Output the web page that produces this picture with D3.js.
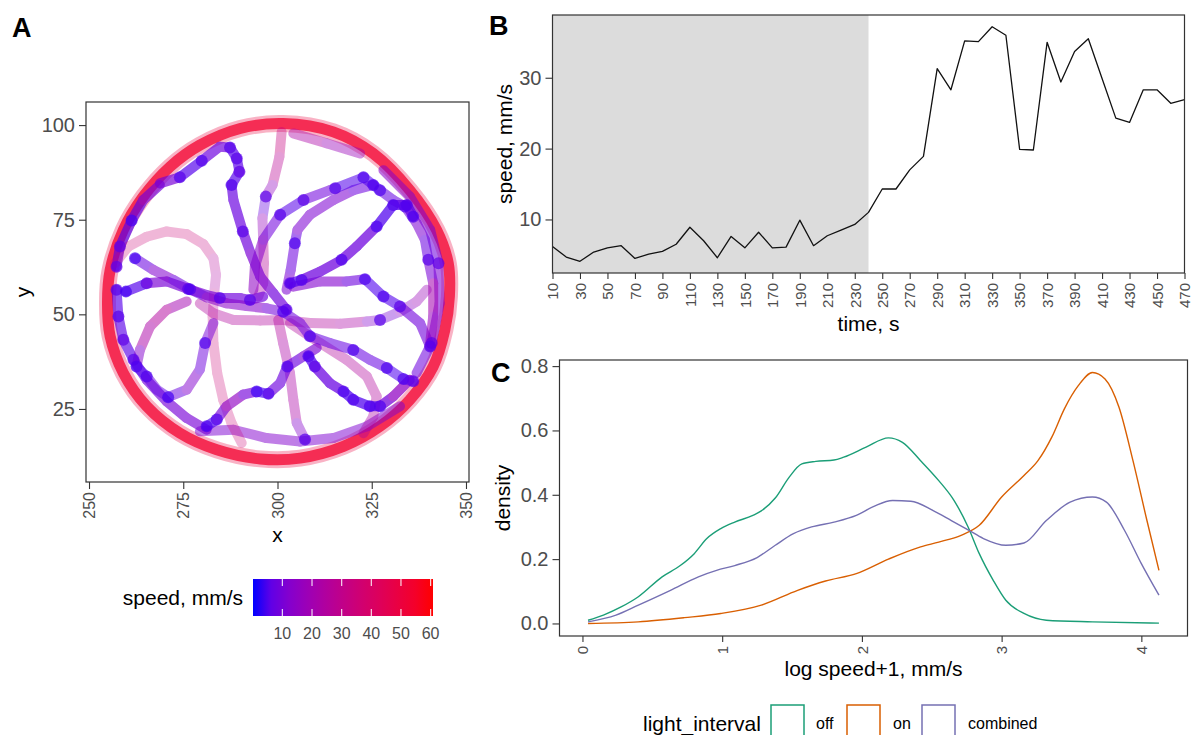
<!DOCTYPE html>
<html><head><meta charset="utf-8">
<script src="https://cdn.jsdelivr.net/npm/d3@7"></script>
<style>
body{margin:0;background:#fff}
svg text{font-family:"Liberation Sans",Arial,Helvetica,sans-serif}
</style>
</head><body>
<svg id="chart" width="1192" height="735"></svg>
<script>
// ---------------- Panel A data: trajectory (x, y, speed) ----------------
const aXTicks = [250, 275, 300, 325, 350];
const aYTicks = [25, 50, 75, 100];
const speedRange = [0.1, 60.8];
const speedTicks = [10, 20, 30, 40, 50, 60];
const rimSpeed = 50;
const rimPts = [[301.5,100.4],[314.8,98.2],[325.4,92.5],[335.1,82.8],[342.2,72.3],[345.3,63.5],[345.6,54.7],[344.4,45.9],[341.3,36.2],[335.1,27.4],[327.2,20.4],[317.5,15.1],[306.0,12.0],[295.4,11.8],[283.9,14.2],[274.1,18.6],[265.3,25.7],[259.1,34.5],[255.6,44.2],[254.9,52.9],[255.6,61.7],[259.1,72.3],[264.4,81.1],[271.5,89.0],[279.4,94.7],[290.1,99.1]];
const track01 = [[268.8,84.6,15],[274.1,86.2,5],[279.9,90.6,4],[284.7,94.3,12],[287.4,94.1,5],[289.2,91.2,5],[289.9,87.7,6],[287.8,84.2,4],[288.3,80.2,10],[290.8,71.9,5],[292.9,66.1,12],[295.4,60.0,10],[298.9,55.6,12],[302.4,51.2,5]];
const track02 = [[301.1,98.2,35],[300.5,91.6,30],[298.7,84.2,25],[296.9,81.1,6],[296.0,75.4,8],[296.2,69.7,25],[296.4,63.5,28],[296.2,58.2,25],[294.9,54.7,20]];
const track03 = [[256.9,63.5,35],[260.4,67.9,35],[265.3,70.5,35],[270.6,71.9,35],[275.9,71.2,35],[280.3,68.6,35],[283.0,64.8,30],[283.7,60.4,22],[283.2,55.6,25],[282.8,49.4,30],[283.0,42.4,35],[284.0,34.5,35],[285.6,27.4,35],[287.8,21.3,35],[290.5,16.0,35]];
const track04 = [[262.2,64.8,3],[267.1,61.7,12],[272.4,59.1,12],[276.8,56.6,4],[281.2,54.5,12],[286.5,52.9,15],[291.8,52.2,12],[297.1,51.6,14],[301.5,50.7,4],[306.0,47.7,12],[308.6,44.2,4],[313.9,42.4,10],[320.1,40.6,4],[324.5,38.0,10],[329.0,35.8,4],[333.4,32.9,4],[336.0,32.3,6]];
const track05 = [[259.8,56.0,3],[265.3,58.2,6],[270.6,58.7,15],[276.3,56.7,5],[281.2,55.1,15],[284.7,54.3,5],[290.1,54.3,12],[292.7,53.8,5],[296.2,54.7,12]];
const track06 = [[279.4,52.9,25],[283.0,50.3,25],[288.3,48.5,25],[295.4,48.4,25],[301.5,48.5,25],[308.6,47.7,25],[316.6,47.5,25],[323.7,48.1,20],[327.2,48.5,5],[332.5,50.7,15],[336.9,53.4,15],[339.6,56.5,20]];
const track07 = [[293.6,56.5,15],[294.0,62.6,15],[296.2,69.7,12],[300.7,76.3,5],[306.9,80.2,5],[313.9,82.8,12],[315.3,83.3,5],[322.8,86.2,4],[327.2,82.8,4],[330.7,80.2,10],[333.8,78.5,4],[336.9,74.1,12],[339.1,69.7,10],[340.0,64.4,5],[341.3,58.2,15],[341.3,49.4,25],[340.5,42.4,8]];
const track08 = [[302.4,56.5,10],[303.5,61.7,12],[304.6,68.8,4],[305.3,72.3,10],[308.6,76.3,12],[314.8,80.2,10],[320.1,82.8,12],[325.4,84.2,4]];
const track09 = [[303.3,58.2,5],[306.4,59.1,4],[311.3,61.3,12],[317.0,64.4,4],[321.0,67.9,12],[326.3,73.2,4],[330.7,78.9,4],[334.3,78.9,5],[336.0,75.8,4]];
const track10 = [[304.2,57.3,12],[311.3,58.7,12],[318.3,58.7,12],[323.2,59.3,4],[328.1,54.7,4],[332.5,52.1,5],[337.8,47.7,12],[340.5,41.5,5]];
const track11 = [[275.9,53.4,15],[270.6,51.2,25],[266.2,46.8,25],[263.5,40.6,20],[262.6,36.2,4],[265.3,33.6,4],[268.0,30.1,10],[271.0,28.1,3],[275.9,30.1,12],[279.4,35.4,12],[280.8,42.4,4],[283.0,47.7,15]];
const track12 = [[281.2,20.4,4],[283.9,22.2,4],[286.5,25.7,15],[290.9,28.8,15],[294.5,29.6,3],[297.6,29.0,4],[300.7,31.8,12],[302.6,36.2,4],[306.9,38.9,12],[310.4,41.1,10]];
const track13 = [[300.2,48.5,25],[301.5,42.4,25],[303.3,34.5,20],[304.2,27.4,25],[305.1,21.3,20],[307.3,16.9,5]];
const track14 = [[308.2,38.9,4],[309.9,36.2,5],[313.9,31.8,10],[317.5,29.6,4],[320.1,27.4,4],[324.5,25.7,4],[327.2,25.7,4],[330.7,28.3,15],[335.1,32.7,15]];
const track15 = [[303.3,47.7,25],[311.3,42.4,25],[318.3,38.0,25],[323.7,33.6,25],[326.3,28.3,25],[325.4,23.0,25],[322.8,18.6,20]];
const track16 = [[279.4,19.1,10],[288.3,19.5,12],[297.1,17.3,12],[306.0,16.4,12],[314.8,17.3,10],[323.7,20.4,12],[332.5,25.7,10]];
const track17 = [[257.3,56.5,5],[257.8,49.4,5],[259.1,43.3,6],[261.8,38.0,5],[265.3,32.7,8],[270.6,27.0,10],[275.9,22.6,10],[281.2,19.5,10]];
const track18 = [[257.3,62.6,6],[258.2,67.9,6],[261.3,74.8,3],[264.4,80.2,8],[268.8,84.2,10]];
const track19 = [[328.1,88.1,15],[335.1,81.1,12],[340.5,72.3,10],[342.7,63.5,6],[343.0,52.9,15],[340.9,42.4,6],[336.9,34.5,10]];
const track20 = [[304.2,97.8,25],[313.0,95.2,20],[321.9,92.5,15]];
const tracks = [track17,track18,track19,track16,track20,track03,track02,track13,track15,track06,track11,track12,track14,track05,track04,track10,track08,track09,track07,track01];

// ---------------- Panel B data ----------------
const timeB = [10,20,30,40,50,60,70,80,90,100,110,120,130,140,150,160,170,180,190,200,210,220,230,240,250,260,270,280,290,300,310,320,330,340,350,360,370,380,390,400,410,420,430,440,450,460,470];
const speedB = [6.2,4.7,4.1,5.4,6.0,6.3,4.5,5.1,5.5,6.5,8.9,7.0,4.6,7.6,6.0,8.2,6.0,6.1,9.9,6.3,7.7,8.5,9.3,11.0,14.3,14.3,17.0,18.9,31.3,28.3,35.2,35.1,37.2,36.0,19.9,19.8,35.0,29.4,33.7,35.5,29.9,24.3,23.7,28.3,28.3,26.4,26.9];
const darkInterval = [10, 240];
const bXTicks = [10,30,50,70,90,110,130,150,170,190,210,230,250,270,290,310,330,350,370,390,410,430,450,470];
const bYTicks = [10, 20, 30];

// ---------------- Panel C data (density curves) ----------------
const offX = [0.04,0.15,0.28,0.40,0.57,0.70,0.80,0.89,0.99,1.09,1.22,1.28,1.38,1.48,1.57,1.67,1.80,1.87,2.03,2.19,2.29,2.42,2.55,2.66,2.76,2.84,2.94,3.03,3.16,3.32,3.65,4.126];
const offY = [0.010,0.026,0.052,0.083,0.145,0.180,0.217,0.264,0.295,0.315,0.336,0.350,0.390,0.455,0.496,0.504,0.508,0.517,0.548,0.577,0.563,0.506,0.444,0.382,0.300,0.217,0.134,0.072,0.031,0.010,0.005,0.001];
const onX = [0.04,0.40,0.73,0.99,1.28,1.54,1.74,1.96,2.19,2.42,2.55,2.71,2.84,3.0,3.16,3.26,3.36,3.45,3.55,3.65,3.74,3.84,3.94,4.04,4.126];
const onY = [0.0,0.005,0.018,0.031,0.057,0.103,0.132,0.155,0.200,0.238,0.253,0.274,0.305,0.393,0.460,0.506,0.580,0.668,0.740,0.780,0.760,0.672,0.506,0.320,0.165];
const combX = [0.04,0.24,0.40,0.63,0.83,0.96,1.09,1.25,1.38,1.51,1.64,1.80,1.96,2.09,2.22,2.35,2.51,2.64,2.76,2.87,3.03,3.16,3.32,3.49,3.65,3.75,3.88,4.0,4.126];
const combY = [0.005,0.026,0.057,0.103,0.145,0.165,0.180,0.205,0.243,0.279,0.300,0.315,0.336,0.365,0.382,0.380,0.351,0.320,0.291,0.264,0.243,0.250,0.320,0.377,0.393,0.377,0.289,0.186,0.088];
const seriesNames = ["off", "on", "combined"];
const seriesColors = ["#1B9E77", "#D95F02", "#7570B3"];
const cXTicks = [0, 1, 2, 3, 4];
const cYTicks = [0.0, 0.2, 0.4, 0.6, 0.8];

// ---------------- drawing ----------------
const svg = d3.select("#chart");
const TICK = "#4D4D4D", BORDER = "#333333";

function styleAxis(g, size) {
  g.select(".domain").remove();
  g.selectAll(".tick line").attr("stroke", BORDER).attr("stroke-width", 1.1);
  g.selectAll(".tick text").attr("fill", TICK).style("font-size", size + "px");
}
function rotateBottom(g, off) {
  g.selectAll(".tick text").attr("transform", "rotate(-90)").attr("x", -off).attr("y", 0)
    .attr("dy", "0.35em").attr("text-anchor", "end");
}
function label(x, y, txt, size, opts = {}) {
  const t = svg.append("text").attr("x", x).attr("y", y).text(txt)
    .style("font-size", size + "px").attr("fill", opts.fill || "#000")
    .attr("text-anchor", opts.anchor || "middle");
  if (opts.bold) t.style("font-weight", "bold");
  if (opts.rotate) t.attr("transform", `rotate(-90,${x},${y})`);
  return t;
}

// ===== Panel A =====
const A = {l: 86, r: 469, t: 102, b: 482};
const ax = d3.scaleLinear().domain([249.2, 350.8]).range([A.l, A.r]);
const ay = d3.scaleLinear().domain([5.7, 106.1]).range([A.b, A.t]);
const speedColor = d3.scaleLinear().domain(speedRange).range(["#0000FF", "#FF0000"]).interpolate(d3.interpolateLab);
const opacityOf = d3.scaleLinear().domain([4, 12, 35]).range([0.72, 0.5, 0.28]).clamp(true);

svg.append("clipPath").attr("id", "clipA").append("rect")
  .attr("x", A.l).attr("y", A.t).attr("width", A.r - A.l).attr("height", A.b - A.t);
const gA = svg.append("g").attr("clip-path", "url(#clipA)");

const rimLine = d3.line().x(d => ax(d[0])).y(d => ay(d[1])).curve(d3.curveCatmullRomClosed);
gA.append("path").attr("d", rimLine(rimPts)).attr("fill", "none")
  .attr("stroke", speedColor(rimSpeed)).attr("stroke-width", 17).attr("opacity", 0.3);
gA.append("path").attr("d", rimLine(rimPts)).attr("fill", "none")
  .attr("stroke", speedColor(rimSpeed + 4)).attr("stroke-width", 11).attr("opacity", 0.75);

tracks.forEach(tr => {
  const med = d3.median(tr, d => d[2]);
  const g = gA.append("g").attr("opacity", opacityOf(med));
  const segs = d3.pairs(tr);
  g.selectAll("line").data(segs).join("line")
    .attr("x1", d => ax(d[0][0])).attr("y1", d => ay(d[0][1]))
    .attr("x2", d => ax(d[1][0])).attr("y2", d => ay(d[1][1]))
    .attr("stroke", d => speedColor((d[0][2] + d[1][2]) / 2))
    .attr("stroke-width", 10).attr("stroke-linecap", "round").attr("stroke-linejoin", "round");
});
tracks.forEach(tr => {
  gA.append("g").selectAll("circle").data(tr.filter(d => d[2] <= 6)).join("circle")
    .attr("cx", d => ax(d[0])).attr("cy", d => ay(d[1])).attr("r", 6)
    .attr("fill", d => speedColor(d[2])).attr("opacity", 0.7);
});

svg.append("rect").attr("x", A.l).attr("y", A.t).attr("width", A.r - A.l).attr("height", A.b - A.t)
  .attr("fill", "none").attr("stroke", BORDER).attr("stroke-width", 1.2);
svg.append("g").attr("transform", `translate(${A.l},0)`)
  .call(d3.axisLeft(ay).tickValues(aYTicks).tickSize(7).tickPadding(4)).call(g => styleAxis(g, 20));
svg.append("g").attr("transform", `translate(0,${A.b})`)
  .call(d3.axisBottom(ax).tickValues(aXTicks).tickSize(7)).call(g => styleAxis(g, 16)).call(g => rotateBottom(g, 10));
label(12, 37, "A", 27, {anchor: "start", bold: true});
label((A.l + A.r) / 2, 542, "x", 21);
label(30, (A.t + A.b) / 2, "y", 21, {rotate: true});

// colour bar legend
const cb = {l: 253, r: 433, t: 579, b: 616};
const cbx = d3.scaleLinear().domain(speedRange).range([cb.l, cb.r]);
const grad = svg.append("defs").append("linearGradient").attr("id", "spGrad");
d3.range(0, 1.0001, 0.1).forEach(t => grad.append("stop").attr("offset", t)
  .attr("stop-color", speedColor(speedRange[0] + t * (speedRange[1] - speedRange[0]))));
svg.append("rect").attr("x", cb.l).attr("y", cb.t).attr("width", cb.r - cb.l).attr("height", cb.b - cb.t)
  .attr("fill", "url(#spGrad)");
speedTicks.forEach(v => {
  svg.append("line").attr("x1", cbx(v)).attr("x2", cbx(v)).attr("y1", cb.t).attr("y2", cb.t + 7)
    .attr("stroke", "#fff").attr("stroke-width", 1.2).attr("opacity", 0.85);
  svg.append("line").attr("x1", cbx(v)).attr("x2", cbx(v)).attr("y1", cb.b - 7).attr("y2", cb.b)
    .attr("stroke", "#fff").attr("stroke-width", 1.2).attr("opacity", 0.85);
  label(cbx(v), 639, v, 16, {fill: TICK});
});
label(243, 605, "speed, mm/s", 21, {anchor: "end"});

// ===== Panel B =====
const B = {l: 552.5, r: 1184.5, t: 15, b: 273};
const bx = d3.scaleLinear().domain([timeB[0], timeB[timeB.length - 1]]).range([B.l, B.r]);
const [bMin, bMax] = d3.extent(speedB);
const bPad = (bMax - bMin) * 0.05;
const by = d3.scaleLinear().domain([bMin - bPad, bMax + bPad]).range([B.b, B.t]);
svg.append("rect").attr("x", bx(darkInterval[0])).attr("y", B.t)
  .attr("width", bx(darkInterval[1]) - bx(darkInterval[0])).attr("height", B.b - B.t).attr("fill", "#DCDCDC");
svg.append("path").datum(timeB.map((t, i) => [t, speedB[i]]))
  .attr("d", d3.line().x(d => bx(d[0])).y(d => by(d[1])))
  .attr("fill", "none").attr("stroke", "#111").attr("stroke-width", 1.3).attr("stroke-linejoin", "round");
svg.append("rect").attr("x", B.l).attr("y", B.t).attr("width", B.r - B.l).attr("height", B.b - B.t)
  .attr("fill", "none").attr("stroke", BORDER).attr("stroke-width", 1.2);
svg.append("g").attr("transform", `translate(${B.l},0)`)
  .call(d3.axisLeft(by).tickValues(bYTicks).tickSize(7).tickPadding(4)).call(g => styleAxis(g, 20));
svg.append("g").attr("transform", `translate(0,${B.b})`)
  .call(d3.axisBottom(bx).tickValues(bXTicks).tickSize(6)).call(g => styleAxis(g, 15)).call(g => rotateBottom(g, 10));
label(489, 35, "B", 27, {anchor: "start", bold: true});
label((B.l + B.r) / 2, 331, "time, s", 21);
label(512, (B.t + B.b) / 2, "speed, mm/s", 21, {rotate: true});

// ===== Panel C =====
const C = {l: 559.5, r: 1187.5, t: 360, b: 636};
const cSeries = [d3.zip(offX, offY), d3.zip(onX, onY), d3.zip(combX, combY)];
const allPts = cSeries.flat();
const [cxMin, cxMax] = d3.extent(allPts, d => d[0]);
const [cyMin, cyMax] = d3.extent(allPts, d => d[1]);
const cxPad = (cxMax - cxMin) * 0.05, cyPad = (cyMax - cyMin) * 0.05;
const cx = d3.scaleLinear().domain([cxMin - cxPad, cxMax + cxPad]).range([C.l, C.r]);
const cy = d3.scaleLinear().domain([cyMin - cyPad, cyMax + cyPad]).range([C.b, C.t]);
const cLine = d3.line().x(d => cx(d[0])).y(d => cy(d[1])).curve(d3.curveMonotoneX);
cSeries.forEach((s, i) => {
  svg.append("path").attr("d", cLine(s)).attr("fill", "none")
    .attr("stroke", seriesColors[i]).attr("stroke-width", 1.4);
});
svg.append("rect").attr("x", C.l).attr("y", C.t).attr("width", C.r - C.l).attr("height", C.b - C.t)
  .attr("fill", "none").attr("stroke", BORDER).attr("stroke-width", 1.2);
svg.append("g").attr("transform", `translate(${C.l},0)`)
  .call(d3.axisLeft(cy).tickValues(cYTicks).tickFormat(d3.format(".1f")).tickSize(7).tickPadding(4))
  .call(g => styleAxis(g, 20));
svg.append("g").attr("transform", `translate(0,${C.b})`)
  .call(d3.axisBottom(cx).tickValues(cXTicks).tickFormat(d3.format("d")).tickSize(6))
  .call(g => styleAxis(g, 15)).call(g => rotateBottom(g, 10));
label(491, 382, "C", 27, {anchor: "start", bold: true});
label((C.l + C.r) / 2, 676, "log speed+1, mm/s", 21);
label(510, (C.t + C.b) / 2, "density", 21, {rotate: true});

// legend
label(643, 731, "light_interval", 21, {anchor: "start"});
const keyX = [771, 847, 922], keyLabX = [816, 893, 968];
seriesNames.forEach((n, i) => {
  svg.append("rect").attr("x", keyX[i]).attr("y", 705).attr("width", 33).attr("height", 34)
    .attr("fill", "#fff").attr("stroke", seriesColors[i]).attr("stroke-width", 1.5);
  label(keyLabX[i], 729, n, 16, {anchor: "start"});
});
</script>
</body></html>
